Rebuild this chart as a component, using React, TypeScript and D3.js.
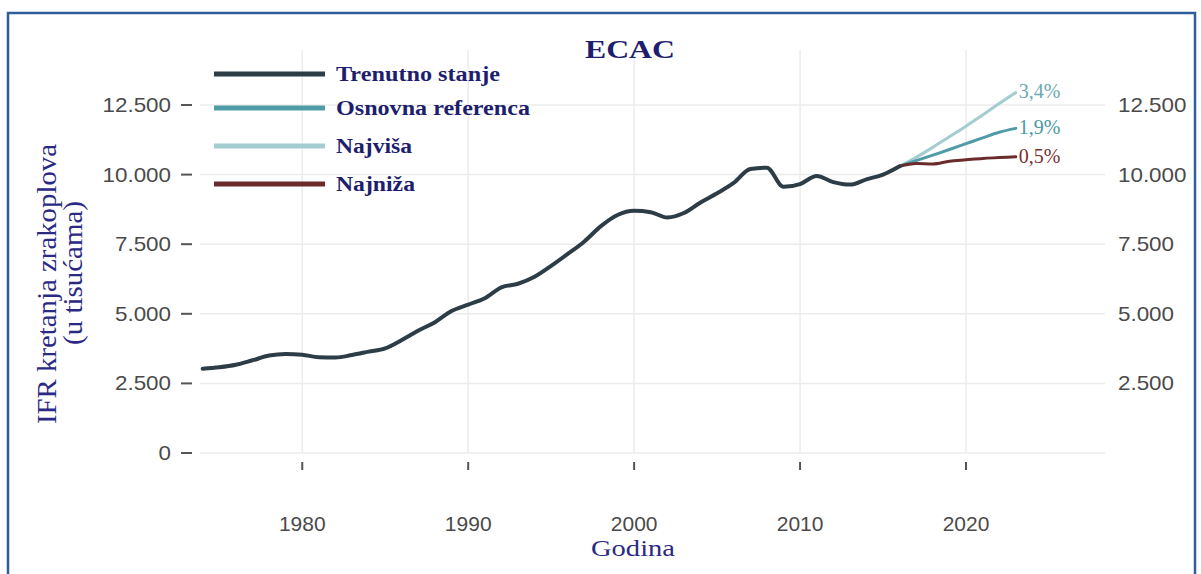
import React from "react";
import * as d3 from "d3";

const years = d3.range(1974, 2017);
const actualValues = [
  3030, 3080, 3170, 3330, 3500, 3560, 3530, 3440, 3430, 3520,
  3640, 3760, 4060, 4400, 4700, 5100, 5330, 5560, 5950, 6080,
  6330, 6720, 7150, 7600, 8150, 8550, 8700, 8650, 8460, 8620,
  9000, 9330, 9700, 10200, 10250, 9560, 9660, 9950, 9730, 9640,
  9830, 10000, 10300,
];
const forecastYears = [2016, 2017, 2018, 2019, 2020, 2021, 2022, 2023];
const highValues = [10300, 10620, 10980, 11360, 11740, 12140, 12550, 12950];
const baseValues = [10300, 10500, 10700, 10900, 11110, 11320, 11520, 11660];
const lowValues = [10300, 10400, 10380, 10480, 10530, 10580, 10610, 10640];
const forecastLabels = ["3,4%", "1,9%", "0,5%"];
const yTicks = [0, 2500, 5000, 7500, 10000, 12500];
const xTicks = [1980, 1990, 2000, 2010, 2020];
const legendLabels = ["Trenutno stanje", "Osnovna referenca", "Najviša", "Najniža"];

const C_ACT = "#2c3d48";
const C_BASE = "#4f9ba6";
const C_HIGH = "#a3cdd1";
const C_LOW = "#6b2b2b";
const NAVY = "#1e1e6e";
const SERIF = "Liberation Serif, Times New Roman, serif";
const SANS = "Liberation Sans, Arial, sans-serif";

const fmt = (v: number) => d3.format(",")(v).replace(/,/g, ".");

export default function App() {
  const x = d3.scaleLinear().domain([1974, 2020]).range([202.7, 966]);
  const y = d3.scaleLinear().domain([0, 12500]).range([453, 105]);
  const gridX0 = 200;
  const gridX1 = 1105;

  const actLine = d3
    .line<number>()
    .x((_, i) => x(years[i]))
    .y((d) => y(d))
    .curve(d3.curveMonotoneX);
  const fLine = d3
    .line<number>()
    .x((_, i) => x(forecastYears[i]))
    .y((d) => y(d))
    .curve(d3.curveMonotoneX);

  const forecasts = [
    { vals: highValues, color: C_HIGH, label: forecastLabels[0], lc: "#6aaab2" },
    { vals: baseValues, color: C_BASE, label: forecastLabels[1], lc: "#4a98a3" },
    { vals: lowValues, color: C_LOW, label: forecastLabels[2], lc: "#7a3030" },
  ];
  const legendColors = [C_ACT, C_BASE, C_HIGH, C_LOW];
  const legendY = [74, 108, 146, 184];
  const legendW = [164, 194, 76, 79];
  const lastYear = forecastYears[forecastYears.length - 1];

  return (
    <svg
      width={1201}
      height={574}
      style={{ position: "absolute", left: 0, top: 0, background: "#fff" }}
    >
      <rect x={0} y={0} width={1201} height={574} fill="#fff" />
      <rect x={8} y={13} width={1187} height={600} fill="none" stroke="#2f5d9b" strokeWidth={2.5} />

      {/* grid */}
      {yTicks.map((t) => (
        <line key={"gy" + t} x1={gridX0} x2={gridX1} y1={y(t)} y2={y(t)} stroke="#ececec" strokeWidth={1.5} />
      ))}
      {xTicks.map((t) => (
        <line key={"gx" + t} x1={x(t)} x2={x(t)} y1={y(0)} y2={50} stroke="#ececec" strokeWidth={1.5} />
      ))}

      {/* left y axis */}
      {yTicks.map((t) => (
        <g key={"ly" + t}>
          <line x1={181} x2={192} y1={y(t)} y2={y(t)} stroke="#555" strokeWidth={2} />
          <g transform={`translate(171,${y(t)}) scale(1.12,1)`}>
            <text dy="0.35em" textAnchor="end" fontFamily={SANS} fontSize={20} fill="#4a4a4a">
              {fmt(t)}
            </text>
          </g>
        </g>
      ))}
      {/* right y labels */}
      {yTicks.filter((t) => t > 0).map((t) => (
        <g key={"ry" + t} transform={`translate(1118,${y(t)}) scale(1.12,1)`}>
          <text dy="0.35em" textAnchor="start" fontFamily={SANS} fontSize={20} fill="#4a4a4a">
            {fmt(t)}
          </text>
        </g>
      ))}

      {/* x axis */}
      {xTicks.map((t) => (
        <g key={"xt" + t}>
          <line x1={x(t)} x2={x(t)} y1={462} y2={470} stroke="#555" strokeWidth={2} />
          <g transform={`translate(${x(t)},531) scale(1.05,1)`}>
            <text textAnchor="middle" fontFamily={SANS} fontSize={20} fill="#4a4a4a">
              {t}
            </text>
          </g>
        </g>
      ))}

      {/* forecast lines */}
      {forecasts.map((f) => (
        <g key={f.label}>
          <path d={fLine(f.vals) || ""} fill="none" stroke={f.color} strokeWidth={3} strokeLinecap="round" />
          <text
            x={x(lastYear) + 3}
            y={y(f.vals[f.vals.length - 1])}
            dy="0.3em"
            fontFamily={SERIF}
            fontSize={20}
            fill={f.lc}
          >
            {f.label}
          </text>
        </g>
      ))}

      {/* actual line */}
      <path d={actLine(actualValues) || ""} fill="none" stroke={C_ACT} strokeWidth={4} strokeLinejoin="round" strokeLinecap="round" />

      {/* legend */}
      {legendLabels.map((l, i) => (
        <g key={l}>
          <line x1={214} x2={325} y1={legendY[i]} y2={legendY[i]} stroke={legendColors[i]} strokeWidth={5} />
          <text
            x={336}
            y={legendY[i]}
            dy="0.33em"
            fontFamily={SERIF}
            fontWeight="bold"
            fontSize={20}
            fill={NAVY}
            textLength={legendW[i]}
            lengthAdjust="spacingAndGlyphs"
          >
            {l}
          </text>
        </g>
      ))}

      {/* title */}
      <text
        x={630}
        y={49}
        dy="0.35em"
        textAnchor="middle"
        fontFamily={SERIF}
        fontWeight="bold"
        fontSize={26}
        fill={NAVY}
        textLength={90}
        lengthAdjust="spacingAndGlyphs"
      >
        ECAC
      </text>

      {/* axis titles */}
      <text
        x={633}
        y={548}
        dy="0.35em"
        textAnchor="middle"
        fontFamily={SERIF}
        fontSize={24}
        fill="#2a2a85"
        textLength={84}
        lengthAdjust="spacingAndGlyphs"
      >
        Godina
      </text>
      <g transform="translate(47,284) rotate(-90)">
        <text textAnchor="middle" dy="0.35em" fontFamily={SERIF} fontSize={27} fill="#2a2a85" textLength={280} lengthAdjust="spacingAndGlyphs">
          IFR kretanja zrakoplova
        </text>
      </g>
      <g transform="translate(73,273) rotate(-90)">
        <text textAnchor="middle" dy="0.35em" fontFamily={SERIF} fontSize={27} fill="#2a2a85" textLength={144} lengthAdjust="spacingAndGlyphs">
          (u tisućama)
        </text>
      </g>
    </svg>
  );
}
